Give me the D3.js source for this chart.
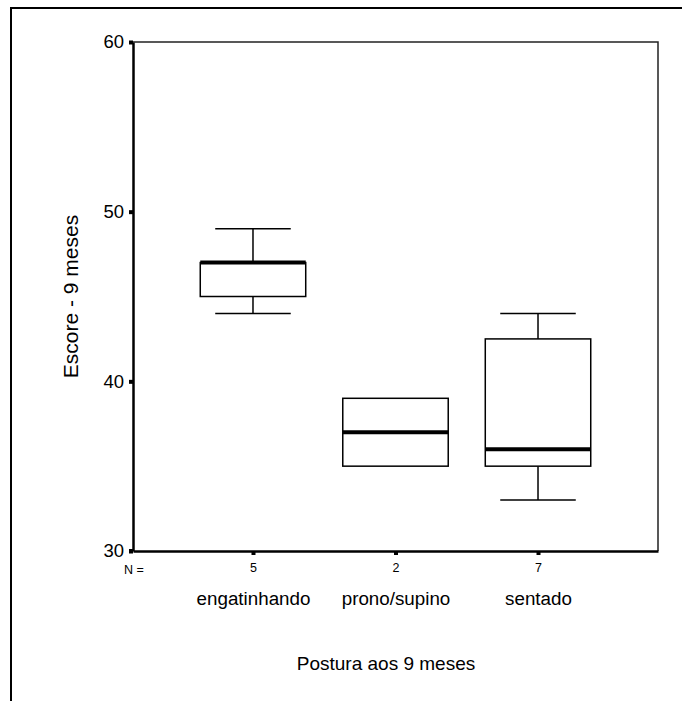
<!DOCTYPE html>
<html>
<head>
<meta charset="utf-8">
<script src="https://cdn.jsdelivr.net/npm/d3@7"></script>
<style>
  body { margin: 0; background: #fff; }
  text { font-family: Arial, "Liberation Sans", sans-serif; fill: #000; }
</style>
</head>
<body>
<div id="chart"></div>
<script>
// Postura aos 9 meses - boxplot data
const categories = ["engatinhando", "prono/supino", "sentado"];
const nValues = [5, 2, 7];
const whiskerLow = [44, 35, 33];
const q1 = [45, 35, 35];
const median = [47, 37, 36];
const q3 = [47, 39, 42.5];
const whiskerHigh = [49, 39, 44];
const yTicks = [30, 40, 50, 60];

const width = 682;
const height = 701;
const margin = { top: 42, right: 24, bottom: 150, left: 133 };
const plotW = width - margin.left - margin.right;
const plotH = height - margin.top - margin.bottom;

const svg = d3.select("#chart")
  .append("svg")
  .attr("width", width)
  .attr("height", height);

// outer frame (only left/top visible)
svg.append("path")
  .attr("d", `M11,${height} L11,8 L${width},8`)
  .attr("fill", "none")
  .attr("stroke", "#000")
  .attr("stroke-width", 2);

const g = svg.append("g").attr("transform", `translate(${margin.left},${margin.top})`);

const x = d3.scalePoint().domain(categories).range([0, plotW]).padding(0.842);
const y = d3.scaleLinear().domain([30, 60]).range([plotH, 0]);

// plot frame top/right
g.append("path")
  .attr("d", `M0,0 L${plotW},0 L${plotW},${plotH}`)
  .attr("fill", "none")
  .attr("stroke", "#222")
  .attr("stroke-width", 1.5);

// boxes
const boxW = x.step() * 0.74;
const capW = x.step() * 0.53;
const rows = categories.map((c, i) => ({
  c, lo: whiskerLow[i], q1: q1[i], med: median[i], q3: q3[i], hi: whiskerHigh[i]
}));

const box = g.selectAll(".box").data(rows).join("g").attr("class", "box");

box.append("line")
  .attr("x1", d => x(d.c)).attr("x2", d => x(d.c))
  .attr("y1", d => y(d.hi)).attr("y2", d => y(d.q3))
  .attr("stroke", "#000").attr("stroke-width", 1.5);
box.append("line")
  .attr("x1", d => x(d.c)).attr("x2", d => x(d.c))
  .attr("y1", d => y(d.q1)).attr("y2", d => y(d.lo))
  .attr("stroke", "#000").attr("stroke-width", 1.5);
box.filter(d => d.hi > d.q3).append("line")
  .attr("x1", d => x(d.c) - capW / 2).attr("x2", d => x(d.c) + capW / 2)
  .attr("y1", d => y(d.hi)).attr("y2", d => y(d.hi))
  .attr("stroke", "#000").attr("stroke-width", 1.5);
box.filter(d => d.lo < d.q1).append("line")
  .attr("x1", d => x(d.c) - capW / 2).attr("x2", d => x(d.c) + capW / 2)
  .attr("y1", d => y(d.lo)).attr("y2", d => y(d.lo))
  .attr("stroke", "#000").attr("stroke-width", 1.5);
box.append("rect")
  .attr("x", d => x(d.c) - boxW / 2)
  .attr("y", d => y(d.q3))
  .attr("width", boxW)
  .attr("height", d => y(d.q1) - y(d.q3))
  .attr("fill", "#fff")
  .attr("stroke", "#000").attr("stroke-width", 1.5);
box.append("line")
  .attr("x1", d => x(d.c) - boxW / 2).attr("x2", d => x(d.c) + boxW / 2)
  .attr("y1", d => y(d.med)).attr("y2", d => y(d.med))
  .attr("stroke", "#000").attr("stroke-width", 4);

// y axis
const yAxis = g.append("g")
  .call(d3.axisLeft(y).tickValues(yTicks).tickSize(0).tickPadding(9));
yAxis.select(".domain").attr("stroke", "#000").attr("stroke-width", 2.5);
yAxis.selectAll(".tick text").style("font-size", "18.5px");
yAxis.selectAll(".tick").append("rect")
  .attr("x", -4).attr("y", -2).attr("width", 4).attr("height", 4).attr("fill", "#000");

// x axis
const xAxis = g.append("g")
  .attr("transform", `translate(0,${plotH})`)
  .call(d3.axisBottom(x).tickSize(0).tickFormat((d, i) => nValues[i]).tickPadding(12));
xAxis.select(".domain").attr("stroke", "#000").attr("stroke-width", 2.5);
xAxis.selectAll(".tick text").style("font-size", "12.5px");
xAxis.selectAll(".tick").append("rect")
  .attr("x", -2).attr("y", 0).attr("width", 4).attr("height", 4).attr("fill", "#000");
xAxis.selectAll(".tick").append("text")
  .attr("y", 54)
  .attr("text-anchor", "middle")
  .style("font-size", "18.8px")
  .text(d => d);

g.append("rect")
  .attr("x", -4).attr("y", plotH - 2).attr("width", 4).attr("height", 4).attr("fill", "#000");

g.append("text")
  .attr("x", 1).attr("y", plotH + 23)
  .attr("text-anchor", "middle")
  .style("font-size", "12.5px")
  .text("N =");

// axis titles
svg.append("text")
  .attr("transform", `translate(78,${margin.top + y(45)}) rotate(-90)`)
  .attr("text-anchor", "middle")
  .style("font-size", "21px")
  .text("Escore - 9 meses");

svg.append("text")
  .attr("x", 386).attr("y", 670)
  .attr("text-anchor", "middle")
  .style("font-size", "19px")
  .text("Postura aos 9 meses");
</script>
</body>
</html>
